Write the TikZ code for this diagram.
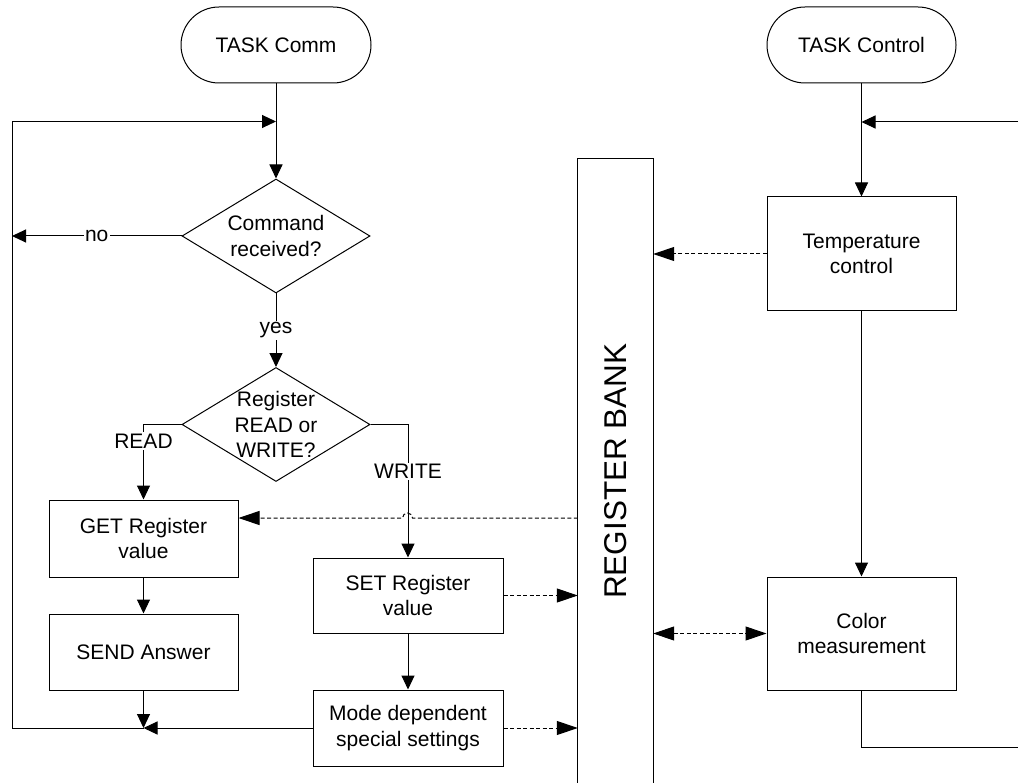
\documentclass[tikz,border=0pt]{standalone}
\usepackage{fontspec}
\setmainfont{Liberation Sans}
\usetikzlibrary{arrows.meta,shapes.geometric}
\tikzset{
  txt/.style={font=\fontsize{21}{25.5}\selectfont},
  box/.style={draw, line width=1pt, minimum width=189pt, minimum height=76pt, inner sep=0pt, align=center, txt},
  term/.style={box, rounded corners=38pt, minimum width=190pt},
  decision/.style={draw, diamond, line width=1pt, minimum width=188pt, minimum height=114pt, inner sep=0pt},
  dtext/.style={align=center, txt},
  arr/.style={line width=1pt, -{Triangle[length=14pt,width=13pt]}},
  dline/.style={line width=1pt, dash pattern=on 4pt off 2.5pt},
  darr/.style={dline, -{Triangle[length=21pt,width=14pt]}},
  ddarr/.style={dline, {Triangle[length=21pt,width=14pt]}-{Triangle[length=21pt,width=14pt]}},
  lbl/.style={fill=white, inner sep=1.5pt, txt},
  plain/.style={line width=1pt},
}
\begin{document}
\begin{tikzpicture}[x=1pt,y=1pt]
\useasboundingbox (0,0) rectangle (1019,-783);

% left task
\node[term] (tcomm) at (276,-45) {TASK Comm};
\node[decision, label={[dtext]center:{Command\\received?}}] (d1) at (276,-236) {};
\node[decision, label={[dtext]center:{Register\\READ or\\WRITE?}}] (d2) at (276,-424.5) {};
\node[box, minimum height=77pt] (get) at (143.5,-538.5) {GET Register\\value};
\node[box] (send) at (143.5,-652) {SEND Answer};
\node[box, minimum width=190pt, minimum height=75pt] (set) at (408,-595.5) {SET Register\\value};
\node[box, minimum width=190pt] (mode) at (408,-728) {Mode dependent\\special settings};

% right task
\node[term, minimum width=189pt] (tctrl) at (861.5,-45) {TASK Control};
\node[box, minimum height=114pt] (temp) at (861.5,-254) {Temperature\\control};
\node[box, minimum height=113pt] (color) at (861.5,-633.5) {Color\\measurement};

% register bank
\node[minimum width=75pt, minimum height=624pt, inner sep=0pt] (bank) at (615.5,-471) {};
\draw[plain] (bank.south west) -- (bank.north west) -- (bank.north east) -- (bank.south east);
\node[rotate=90, font=\fontsize{31.5}{36}\selectfont] (banktxt) at (bank.center) {REGISTER BANK};

% coordinates
\coordinate (join0) at (276,-121.5);
\coordinate (L1) at (12,-121.5);
\coordinate (L2) at (12,-236);
\coordinate (L3) at (12,-728);
\coordinate (join1) at (143.5,-728);
\coordinate (joinR) at (861.5,-122);
\coordinate (R1) at (1018,-122);
\coordinate (R2) at (1018,-747);
\coordinate (hopR) at (412.5,-518);

% left flow
\draw[arr] (tcomm.south) -- (d1.north);
\draw[arr] (L3) -- (L1) -- (join0);
\draw[arr] (d1.west) -- node[lbl] {no} (L2);
\draw[arr] (d1.south) -- node[lbl] {yes} (d2.north);
\draw[arr] (d2.west) -| node[lbl, pos=0.61] {READ} (get.north);
\draw[arr] (d2.east) -| node[lbl, pos=0.677] {WRITE} (set.north);
\draw[arr] (get.south) -- (send.south |- get.south) -- (send.north);
\draw[arr] (set.south) -- (mode.north);
\draw[arr] (send.south) -- (join1);
\draw[arr] (mode.west) -- (join1);
\draw[plain] (join1) -- (L3);

% right flow
\draw[arr] (tctrl.south) -- (temp.north);
\draw[arr] (R1) -- (joinR);
\draw[arr] (temp.south) -- (color.north);
\draw[plain] (color.south) |- (R2);

% data links
\draw[darr] (temp.west) -- (temp.west -| bank.east);
\draw[ddarr] (color.west -| bank.east) -- (color.west);
\draw[darr] (set.east) -- (set.east -| bank.west);
\draw[darr] (mode.east) -- (mode.east -| bank.west);
\draw[darr] (bank.west |- hopR) -- (hopR) arc[start angle=0, end angle=180, radius=5pt] -- (get.east |- hopR);
\end{tikzpicture}
\end{document}
